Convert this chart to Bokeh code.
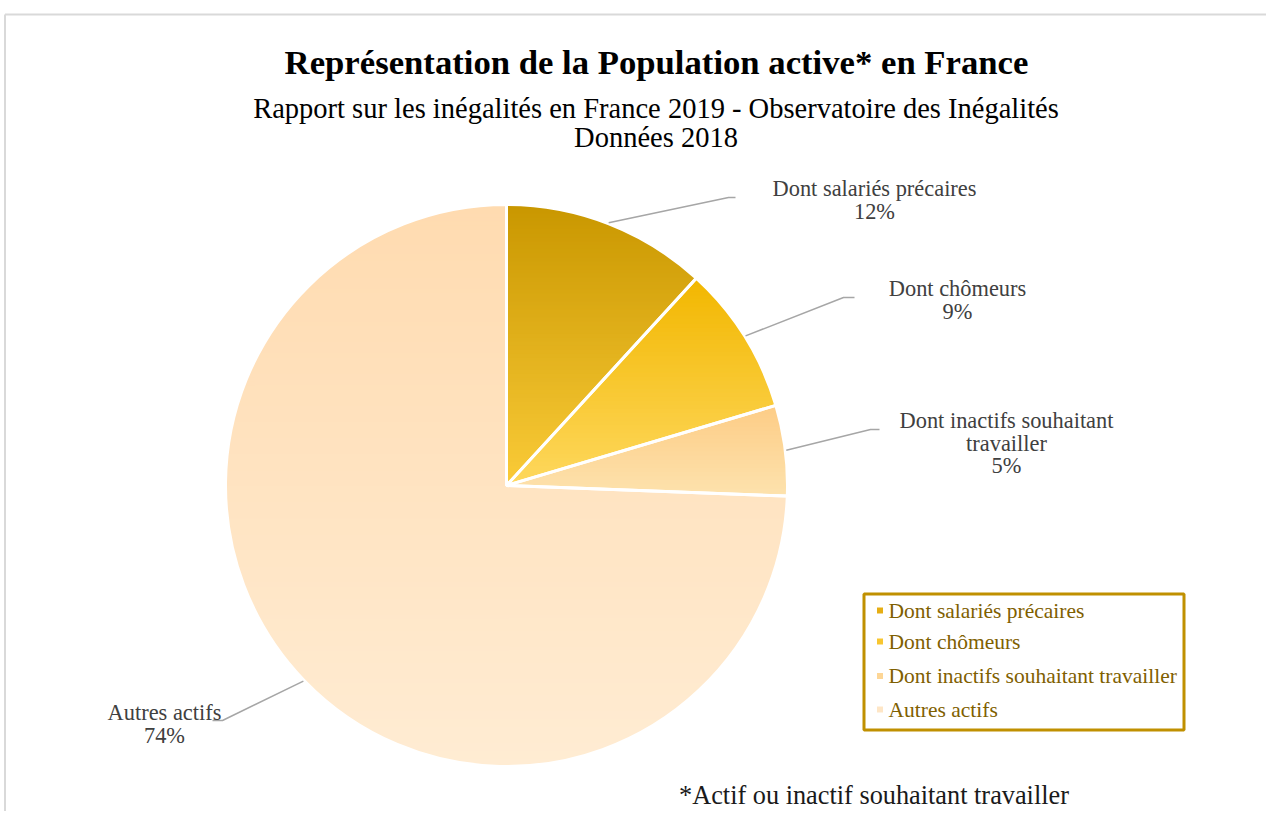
import numpy as np
from bokeh.plotting import figure
from bokeh.models import Range1d
from bokeh.embed import file_html
from bokeh.resources import INLINE
from bokeh.core.properties import value

# ---------------- data ----------------
categories = ["Dont salariés précaires", "Dont chômeurs",
              "Dont inactifs souhaitant travailler", "Autres actifs"]
shares = [11.8, 8.6, 5.2, 74.4]
pct_labels = ["12%", "9%", "5%", "74%"]
label_lines = [["Dont salariés précaires"], ["Dont chômeurs"],
               ["Dont inactifs souhaitant", "travailler"], ["Autres actifs"]]
top_colors = ["#C99700", "#F2B700", "#FDCD86", "#FFDBB0"]
bottom_colors = ["#FACB38", "#FED85E", "#FDE2AE", "#FFECD3"]
legend_colors = ["#E6AE14", "#F8C630", "#FDD696", "#FEE6C6"]

title_text = "Représentation de la Population active* en France"
subtitle_lines = ["Rapport sur les inégalités en France 2019 - Observatoire des Inégalités",
                  "Données 2018"]
footnote_text = "*Actif ou inactif souhaitant travailler"

FONT = "Liberation Serif"

# ---------------- layout helpers ----------------
W, H = 1266, 811
def Y(sy):
    # picture y (top-down) -> data y (bottom-up)
    return H - sy

p = figure(width=W, height=H, x_range=Range1d(0, W), y_range=Range1d(0, H),
           output_backend="svg", toolbar_location=None, min_border=0,
           x_axis_type=None, y_axis_type=None)
p.grid.visible = False
p.outline_line_color = None
p.background_fill_color = "white"
p.border_fill_color = "white"

# outer frame (light gray)
p.line(x=[4.5, W], y=[Y(14), Y(14)], line_color="#D9D9D9", line_width=2)
p.line(x=[4.5, 4.5], y=[Y(14), 0], line_color="#D9D9D9", line_width=2)

# ---------------- pie ----------------
CX, CY, R = 506, Y(485), 281
tot = float(sum(shares))
cum = np.concatenate([[0.0], np.cumsum(shares)]) / tot
start_angles = np.pi / 2 - 2 * np.pi * cum[:-1]
end_angles = np.pi / 2 - 2 * np.pi * cum[1:]

def hex2rgb(h):
    h = h.lstrip("#")
    return np.array([int(h[i:i + 2], 16) for i in (0, 2, 4)], dtype=float)

def rgb2hex(c):
    c = np.clip(np.round(c), 0, 255).astype(int)
    return "#%02x%02x%02x" % tuple(c)

def clip_half(pts, keep_above, yc):
    out = []
    n = len(pts)
    def inside(q):
        return q[1] >= yc if keep_above else q[1] <= yc
    def inter(a, b):
        t = (yc - a[1]) / (b[1] - a[1])
        return (a[0] + t * (b[0] - a[0]), yc)
    for i in range(n):
        cur, prev = pts[i], pts[i - 1]
        if inside(cur):
            if not inside(prev):
                out.append(inter(prev, cur))
            out.append(cur)
        elif inside(prev):
            out.append(inter(prev, cur))
    return out

# solid base wedges
p.wedge(x=CX, y=CY, radius=R, start_angle=start_angles, end_angle=end_angles,
        direction="clock", fill_color=legend_colors, line_color=None)

band_xs, band_ys, band_cols = [], [], []
for i in range(len(shares)):
    n = max(60, int(400 * (start_angles[i] - end_angles[i])))
    angs = np.linspace(start_angles[i], end_angles[i], n)
    poly = [(CX, CY)] + list(zip(CX + R * np.cos(angs), CY + R * np.sin(angs)))
    ys_all = [q[1] for q in poly]
    ymin, ymax = min(ys_all), max(ys_all)
    nb = max(10, int((ymax - ymin) / 4))
    edges = np.linspace(ymin, ymax, nb + 1)
    c0, c1 = hex2rgb(top_colors[i]), hex2rgb(bottom_colors[i])
    for k in range(nb):
        lo, hi = edges[k] - 0.7, edges[k + 1] + 0.7
        pts = clip_half(poly, True, lo)
        if len(pts) < 3:
            continue
        pts = clip_half(pts, False, hi)
        if len(pts) < 3:
            continue
        t = (ymax - 0.5 * (edges[k] + edges[k + 1])) / (ymax - ymin)
        band_xs.append([q[0] for q in pts])
        band_ys.append([q[1] for q in pts])
        band_cols.append(rgb2hex(c0 + (c1 - c0) * t))

p.patches(xs=band_xs, ys=band_ys, fill_color=band_cols, line_color=None)

# white separators
p.wedge(x=CX, y=CY, radius=R, start_angle=start_angles, end_angle=end_angles,
        direction="clock", fill_color=None, line_color="white", line_width=3)

# ---------------- leader lines & data labels ----------------
elbows = [(728, 197, 735), (843, 297, 854), (870, 429, 879), (222, 720, 212)]
label_cx = [874, 957, 1006, 164]
label_y0 = [188, 288, 420, 712]
LINE_STEP = 22.5

mid = 0.5 * (start_angles + end_angles)
lx, ly = [], []
for i in range(len(shares)):
    sx = CX + (R + 1) * np.cos(mid[i])
    sy = CY + (R + 1) * np.sin(mid[i])
    ex, ey, fx = elbows[i]
    lx.append([sx, ex, fx])
    ly.append([sy, Y(ey), Y(ey)])
p.multi_line(xs=lx, ys=ly, line_color="#A6A6A6", line_width=1.5)

tx, ty, tt = [], [], []
for i in range(len(shares)):
    lines = label_lines[i] + [pct_labels[i]]
    for j, s in enumerate(lines):
        tx.append(label_cx[i])
        ty.append(Y(label_y0[i] + j * LINE_STEP))
        tt.append(s)
p.text(x=tx, y=ty, text=tt, text_font=value(FONT), text_font_size="22.4px",
       text_color="#404040", text_align="center", text_baseline="middle")

# ---------------- titles ----------------
p.text(x=[656], y=[Y(61.5)], text=[title_text], text_font=value(FONT),
       text_font_size="34.7px", text_font_style="bold", text_color="#000000",
       text_align="center", text_baseline="middle")
p.text(x=[655.5, 655.5], y=[Y(108), Y(136.5)], text=subtitle_lines,
       text_font=value(FONT), text_font_size="28.5px", text_color="#000000",
       text_align="center", text_baseline="middle")
p.text(x=[873.5], y=[Y(795)], text=[footnote_text], text_font=value(FONT),
       text_font_size="26.3px", text_color="#1A1A1A",
       text_align="center", text_baseline="middle")

# ---------------- legend (drawn box) ----------------
p.quad(left=863.5, right=1183.5, top=Y(593.5), bottom=Y(729.5),
       fill_color="white", line_color="#C09000", line_width=3)
leg_rows = [610, 641, 675.5, 709]
p.scatter(x=[879.5] * 4, y=[Y(v) for v in leg_rows], marker="square", size=6,
          fill_color=legend_colors, line_color=None)
p.text(x=[888] * 4, y=[Y(v) for v in leg_rows], text=categories,
       text_font=value(FONT), text_font_size="21.5px", text_color="#7F6000",
       text_align="left", text_baseline="middle")

open("out.html", "w").write(file_html(p, INLINE))
